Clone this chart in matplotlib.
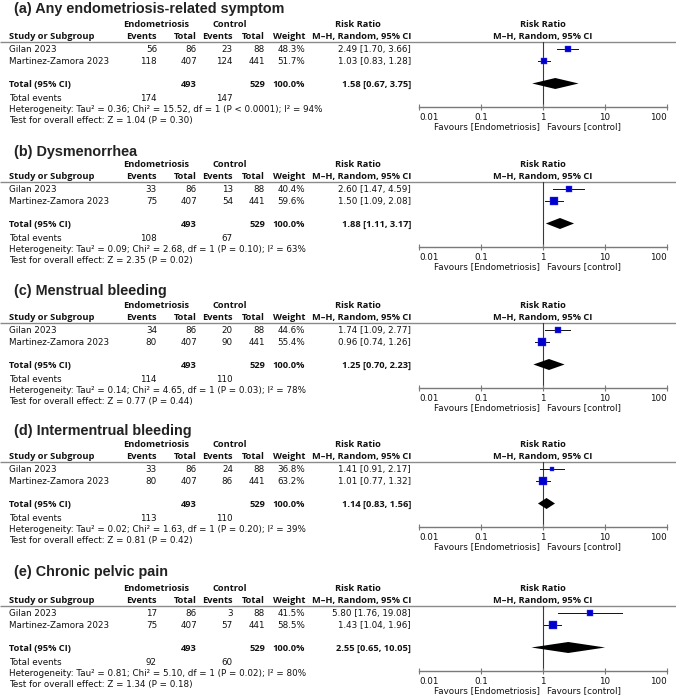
import matplotlib
matplotlib.use("Agg")
import matplotlib.pyplot as plt
from matplotlib import font_manager as fm
from matplotlib.textpath import TextPath

# ---------------- data ----------------
outcomes = ["(a) Any endometriosis-related symptom", "(b) Dysmenorrhea",
            "(c) Menstrual bleeding", "(d) Intermentrual bleeding",
            "(e) Chronic pelvic pain"]
studies = ["Gilan 2023", "Martinez-Zamora 2023"]
endo_total = [86, 407]
ctrl_total = [88, 441]
endo_events = [[56, 118], [33, 75], [34, 80], [33, 80], [17, 75]]
ctrl_events = [[23, 124], [13, 54], [20, 90], [24, 86], [3, 57]]
weights = [[48.3, 51.7], [40.4, 59.6], [44.6, 55.4], [36.8, 63.2], [41.5, 58.5]]
rr = [[2.49, 1.03], [2.60, 1.50], [1.74, 0.96], [1.41, 1.01], [5.80, 1.43]]
rr_lo = [[1.70, 0.83], [1.47, 1.09], [1.09, 0.74], [0.91, 0.77], [1.76, 1.04]]
rr_hi = [[3.66, 1.28], [4.59, 2.08], [2.77, 1.26], [2.17, 1.32], [19.08, 1.96]]
total_rr = [1.58, 1.88, 1.25, 1.14, 2.55]
total_lo = [0.67, 1.11, 0.70, 0.83, 0.65]
total_hi = [3.75, 3.17, 2.23, 1.56, 10.05]
tau2 = ["0.36", "0.09", "0.14", "0.02", "0.81"]
chi2 = ["15.52", "2.68", "4.65", "1.63", "5.10"]
het_p = ["P < 0.0001", "P = 0.10", "P = 0.03", "P = 0.20", "P = 0.02"]
i2 = [94, 63, 78, 39, 80]
z_val = ["1.04", "2.35", "0.77", "0.81", "1.34"]
z_p = ["0.30", "0.02", "0.44", "0.42", "0.18"]
tick_vals = [0.01, 0.1, 1, 10, 100]
tick_labels = ["0.01", "0.1", "1", "10", "100"]

# ---------------- layout (pixels) ----------------
W, H = 676, 695
line_y = [42, 182, 323, 462, 606]
title_y = [7.5, 150.5, 290, 430, 571]
FS = 6.3
TFS = 10.4
FAM = "DejaVu Sans"
TFAM = "Liberation Sans"

# choose a bold face whose bold is narrower than DejaVu Sans Bold
BFAM = "DejaVu Sans"
for cand in ["Open Sans", "Noto Sans", "Lato", "Roboto", "Inter"]:
    if any(f.name == cand and (f.weight == "bold" or (isinstance(f.weight, int) and f.weight >= 700))
           for f in fm.fontManager.ttflist):
        BFAM = cand
        break
_w = TextPath((0, 0), "Study or Subgroup",
              prop=fm.FontProperties(family=BFAM, weight="bold", size=10)).get_extents().width
BFS = max(5.4, min(7.2, 10 * (84 * 0.72) / _w))

x_study = 9
x_ee, x_et, x_ce, x_ct, x_w, x_rr = 157, 197, 233, 265, 305, 411
x_plot0, x_plot1 = 419, 667
plot_h = 65

fig = plt.figure(figsize=(W / 100, H / 100), dpi=100)
bg = fig.add_axes([0, 0, 1, 1])
bg.set_xlim(0, W)
bg.set_ylim(H, 0)
bg.axis("off")


def t(x, y, s, ha="left", bold=False):
    if bold:
        bg.text(x, y + 3.1, s, ha=ha, va="baseline", fontsize=BFS,
                family=BFAM, fontweight="bold", color="#111111")
    else:
        bg.text(x, y + 3.1, s, ha=ha, va="baseline", fontsize=FS,
                family=FAM, color="#111111")


for i, name in enumerate(outcomes):
    L = line_y[i]
    bg.text(14, title_y[i] + 5.2, name, ha="left", va="baseline", fontsize=TFS,
            fontweight="bold", family=TFAM, color="#222222")
    # header
    t(156, L - 18, "Endometriosis", ha="center", bold=True)
    t(230, L - 18, "Control", ha="center", bold=True)
    t(358, L - 18, "Risk Ratio", ha="center", bold=True)
    t(543, L - 18, "Risk Ratio", ha="center", bold=True)
    t(x_study, L - 6, "Study or Subgroup", bold=True)
    t(x_ee, L - 6, "Events", ha="right", bold=True)
    t(x_et, L - 6, "Total", ha="right", bold=True)
    t(x_ce, L - 6, "Events", ha="right", bold=True)
    t(x_ct, L - 6, "Total", ha="right", bold=True)
    t(x_w, L - 6, "Weight", ha="right", bold=True)
    t(x_rr, L - 6, "M\u2013H, Random, 95% CI", ha="right", bold=True)
    t(543, L - 6, "M\u2013H, Random, 95% CI", ha="center", bold=True)
    bg.plot([0, W], [L, L], color="#8a8a8a", lw=1.0, solid_capstyle="butt")

    row_y = [L + 7, L + 19]
    for j, st in enumerate(studies):
        y = row_y[j]
        t(x_study, y, st)
        t(x_ee, y, str(endo_events[i][j]), ha="right")
        t(x_et, y, str(endo_total[j]), ha="right")
        t(x_ce, y, str(ctrl_events[i][j]), ha="right")
        t(x_ct, y, str(ctrl_total[j]), ha="right")
        t(x_w, y, f"{weights[i][j]:.1f}%", ha="right")
        t(x_rr, y, f"{rr[i][j]:.2f} [{rr_lo[i][j]:.2f}, {rr_hi[i][j]:.2f}]", ha="right")

    yt = L + 41.5
    t(x_study, yt, "Total (95% CI)", bold=True)
    t(x_et, yt, str(sum(endo_total)), ha="right", bold=True)
    t(x_ct, yt, str(sum(ctrl_total)), ha="right", bold=True)
    t(x_w, yt, "100.0%", ha="right", bold=True)
    t(x_rr, yt, f"{total_rr[i]:.2f} [{total_lo[i]:.2f}, {total_hi[i]:.2f}]", ha="right", bold=True)

    t(x_study, L + 56, "Total events")
    t(x_ee, L + 56, str(sum(endo_events[i])), ha="right")
    t(x_ce, L + 56, str(sum(ctrl_events[i])), ha="right")
    t(x_study, L + 67, f"Heterogeneity: Tau\u00b2 = {tau2[i]}; Chi\u00b2 = {chi2[i]}, df = 1 ({het_p[i]}); I\u00b2 = {i2[i]}%")
    t(x_study, L + 78, f"Test for overall effect: Z = {z_val[i]} (P = {z_p[i]})")

    # forest plot axes
    ax = fig.add_axes([x_plot0 / W, 1 - (L + plot_h) / H,
                       (x_plot1 - x_plot0) / W, plot_h / H])
    ax.set_xscale("log")
    ax.set_xlim(0.01, 100)
    ax.set_ylim(plot_h, 0)
    ax.patch.set_alpha(0)
    for s in ["top", "left", "right"]:
        ax.spines[s].set_visible(False)
    ax.spines["bottom"].set_color("#7a7a7a")
    ax.spines["bottom"].set_linewidth(1.0)
    ax.set_yticks([])
    ax.set_xticks(tick_vals)
    labs = ax.set_xticklabels(tick_labels, fontsize=FS, family=FAM, color="#111111")
    labs[0].set_ha("left")
    labs[-1].set_ha("right")
    ax.minorticks_off()
    ax.tick_params(axis="x", direction="inout", length=5, width=0.8,
                   color="#7a7a7a", pad=1.5)
    ax.axvline(1, color="#3a3a3a", lw=0.8, zorder=1)
    for j in range(2):
        y = row_y[j] - L
        ax.plot([rr_lo[i][j], rr_hi[i][j]], [y, y], color="#111111", lw=0.7,
                zorder=2, clip_on=False)
        side = 0.135 * weights[i][j] * 0.72
        ax.scatter([rr[i][j]], [y], marker="s", s=side ** 2, color="#0000cc",
                   edgecolors="#3a3aff", linewidths=0.3, zorder=3, clip_on=False)
    yd = yt - L
    ax.fill([total_lo[i], total_rr[i], total_hi[i], total_rr[i]],
            [yd, yd - 5.5, yd, yd + 5.5], color="black", lw=0, zorder=3)

    bg.text(540, L + 84 + 3.1, "Favours [Endometriosis]", ha="right", va="baseline",
            fontsize=FS, family=FAM, color="#111111")
    bg.text(547, L + 84 + 3.1, "Favours [control]", ha="left", va="baseline",
            fontsize=FS, family=FAM, color="#111111")

fig.savefig("out.png", dpi=100)
